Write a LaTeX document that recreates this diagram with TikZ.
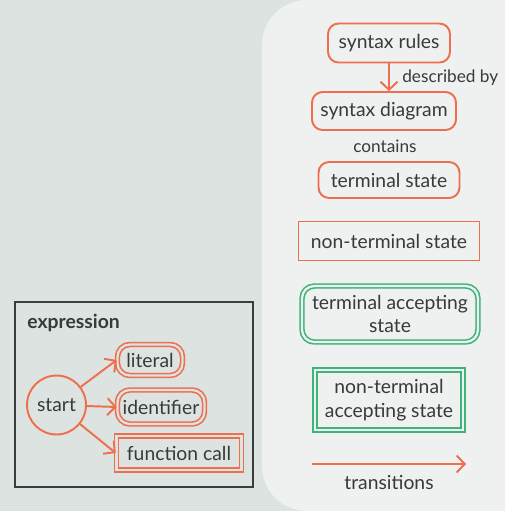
\documentclass[tikz,border=0pt]{standalone}
\usepackage{fontspec}
\setmainfont{Lato}
\usetikzlibrary{arrows.meta, positioning}
\definecolor{bggrey}{HTML}{DDE3E0}
\definecolor{panelgrey}{HTML}{EFF1F0}
\definecolor{stateorange}{HTML}{EE6E4E}
\definecolor{acceptgreen}{HTML}{3DB57A}
\definecolor{textgrey}{HTML}{383A3A}
\definecolor{framegrey}{HTML}{3A3D3D}
\tikzset{
  base/.style={text=textgrey, font=\fontsize{11}{13.5}\selectfont, align=center, inner sep=0pt},
  termstate/.style={base, rectangle, draw=stateorange, line width=1.1pt, rounded corners=6pt},
  ntermstate/.style={base, rectangle, draw=stateorange, line width=1.1pt},
  termaccept/.style={base, rectangle, draw=#1, line width=0.9pt, double=panelgrey,
                     double distance=1.3pt, rounded corners=7pt},
  ntermaccept/.style={base, rectangle, draw=#1, line width=0.9pt, double=panelgrey,
                      double distance=1.3pt},
  startstate/.style={base, circle, draw=stateorange, line width=1.1pt, minimum size=1.18cm},
  edgelabel/.style={text=textgrey, font=\fontsize{9.8}{11.5}\selectfont, inner sep=0pt},
  trans/.style={-{Straight Barb[length=1.6mm,width=3.4mm]}, draw=stateorange, line width=1.1pt},
}

\begin{document}
\begin{tikzpicture}[x=0.02cm, y=-0.02cm]
  % backgrounds
  \useasboundingbox (0,0) rectangle (505,511);
  \clip (0,0) rectangle (505,511);
  \fill[bggrey] (0,0) rectangle (505,511);
  \fill[panelgrey, rounded corners=0.9cm] (262,0) rectangle (600,511);

  % legend column
  \node[termstate, minimum width=2.44cm, minimum height=0.78cm] (rules) at (389,43) {syntax rules};
  \node[termstate, minimum width=2.88cm, minimum height=0.76cm] (diagram) at (384,111) {syntax diagram};
  \node[termstate, minimum width=2.82cm, minimum height=0.72cm] (tstate) at (389,180) {terminal state};
  \node[ntermstate, minimum width=3.62cm, minimum height=0.78cm] (ntstate) at (389,241) {non-terminal state};
  \node[termaccept=acceptgreen, minimum width=3.52cm, minimum height=1.12cm] (taccept) at (390,314)
        {terminal accepting\\state};
  \node[ntermaccept=acceptgreen, minimum width=2.96cm, minimum height=1.2cm] (ntaccept) at (389,400)
        {non-terminal\\accepting state};

  \draw[trans] (rules) -- (diagram.north -| rules.south);
  \node[edgelabel, anchor=west] (describedby) at (402,78) {described by};
  \node[edgelabel] (contains) at (385,146) {contains};

  \coordinate (tfrom) at (312,464);
  \coordinate (tto) at (466,464);
  \draw[trans] (tfrom) -- (tto);
  \node[edgelabel, font=\fontsize{11}{13.5}\selectfont] (transitions) at (389,482) {transitions};

  % expression example
  \node[draw=framegrey, line width=1.2pt, minimum width=4.76cm, minimum height=3.7cm, inner sep=0pt]
        (frame) at (134,394.5) {};
  \node[base, anchor=west, font=\fontsize{11}{13.5}\selectfont\bfseries] (expr) at (27,323) {expression};
  \node[startstate] (start) at (56.5,405) {start};
  \node[termaccept=stateorange, double=bggrey, minimum width=1.3cm, minimum height=0.62cm] (literal)
        at (150,360) {literal};
  \node[termaccept=stateorange, double=bggrey, minimum width=1.74cm, minimum height=0.68cm] (ident)
        at (161,407) {identifier};
  \node[ntermaccept=stateorange, double=bggrey, minimum width=2.5cm, minimum height=0.68cm] (call)
        at (179,453) {function call};

  \draw[trans] (start) -- (literal.west);
  \draw[trans] (start) -- (ident.west);
  \draw[trans] (start) -- (call.west);
\end{tikzpicture}
\end{document}
